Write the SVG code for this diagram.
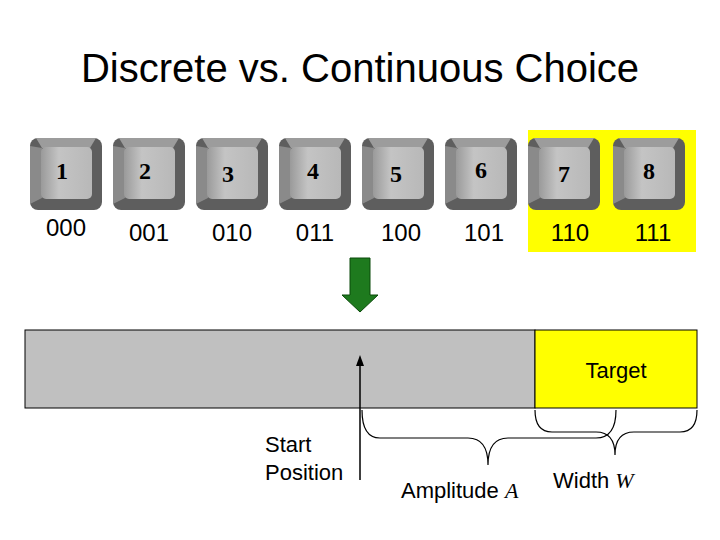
<svg xmlns="http://www.w3.org/2000/svg" width="720" height="540" viewBox="0 0 720 540">
<style>
.t{font-family:"Liberation Sans",Arial,sans-serif;fill:#000}
.k{font-family:"Liberation Serif","DejaVu Serif",serif;font-weight:bold;font-size:24px;text-anchor:middle}
.b{font-family:"Liberation Sans",Arial,sans-serif;font-size:24px;text-anchor:middle}
.br{fill:none;stroke:#000;stroke-width:1.2}
</style>
<defs>
<linearGradient id="face" x1="0" x2="1"><stop offset="0" stop-color="#9a9a9a"/><stop offset="0.35" stop-color="#c4c4c4"/><stop offset="1" stop-color="#b8b8b8"/></linearGradient>
<g id="key">
<rect x="0" y="0" width="72" height="72" rx="8" fill="#5e5e5e"/>
<polygon points="6,0 66,0 60,10 12,10" fill="#9c9c9c"/>
<polygon points="0,8 12,10 12,60 0,66" fill="#8a8a8a"/>
<rect x="11" y="9" width="51" height="52" rx="5" fill="url(#face)"/>
</g>
</defs>
<text class="t" x="360" y="82" font-size="40" text-anchor="middle">Discrete vs. Continuous Choice</text>
<rect x="528" y="130" width="168" height="122" fill="#ffff00"/>
<g id="k1"><use href="#key" x="30" y="138"/><text class="k" x="62" y="179">1</text><text class="b" x="66" y="236">000</text></g>
<g id="k2"><use href="#key" x="113" y="138"/><text class="k" x="145" y="179">2</text><text class="b" x="149" y="241">001</text></g>
<g id="k3"><use href="#key" x="196" y="138"/><text class="k" x="228" y="182">3</text><text class="b" x="232" y="241">010</text></g>
<g id="k4"><use href="#key" x="279" y="138"/><text class="k" x="313" y="179">4</text><text class="b" x="315" y="241">011</text></g>
<g id="k5"><use href="#key" x="362" y="138"/><text class="k" x="396" y="182">5</text><text class="b" x="401" y="241">100</text></g>
<g id="k6"><use href="#key" x="445" y="138"/><text class="k" x="481" y="178">6</text><text class="b" x="484" y="241">101</text></g>
<g id="k7"><use href="#key" x="528" y="138"/><text class="k" x="564" y="182">7</text><text class="b" x="570" y="241">110</text></g>
<g id="k8"><use href="#key" x="613" y="138"/><text class="k" x="649" y="179">8</text><text class="b" x="653" y="241">111</text></g>
<g id="bar">
<rect x="25" y="330" width="510" height="78" fill="#c0c0c0" stroke="#000"/>
<rect x="535" y="330" width="162" height="78" fill="#ffff00" stroke="#000"/>
<text class="t" x="616" y="378" font-size="22" text-anchor="middle">Target</text>
</g>
<g id="connectors">
<polygon points="350,258 370,258 370,295 378,295 360,312 342,295 350,295" fill="#1e7a1e" stroke="#0a4a0a" stroke-width="1"/>
<line x1="360" y1="480" x2="360" y2="362" stroke="#000" stroke-width="1.5"/>
<polygon points="360,355 356,366 364,366" fill="#000"/>
<path class="br" d="M362,410 Q362,438 380,438 L468,438 Q488,438 488,465 Q488,438 508,438 L596,438 Q616,438 616,410"/>
<path class="br" d="M535,410 Q535,432 552,432 L596,432 Q615,432 615,455 Q615,432 634,432 L680,432 Q697,432 697,410"/>
</g>
<g id="labels">
<text class="t" x="265" y="452" font-size="22">Start</text>
<text class="t" x="265" y="480" font-size="22">Position</text>
<text class="t" x="401" y="498" font-size="22">Amplitude <tspan font-family="Liberation Serif,serif" font-style="italic">A</tspan></text>
<text class="t" x="553" y="488" font-size="22">Width <tspan font-family="Liberation Serif,serif" font-style="italic">W</tspan></text>
</g>
</svg>
